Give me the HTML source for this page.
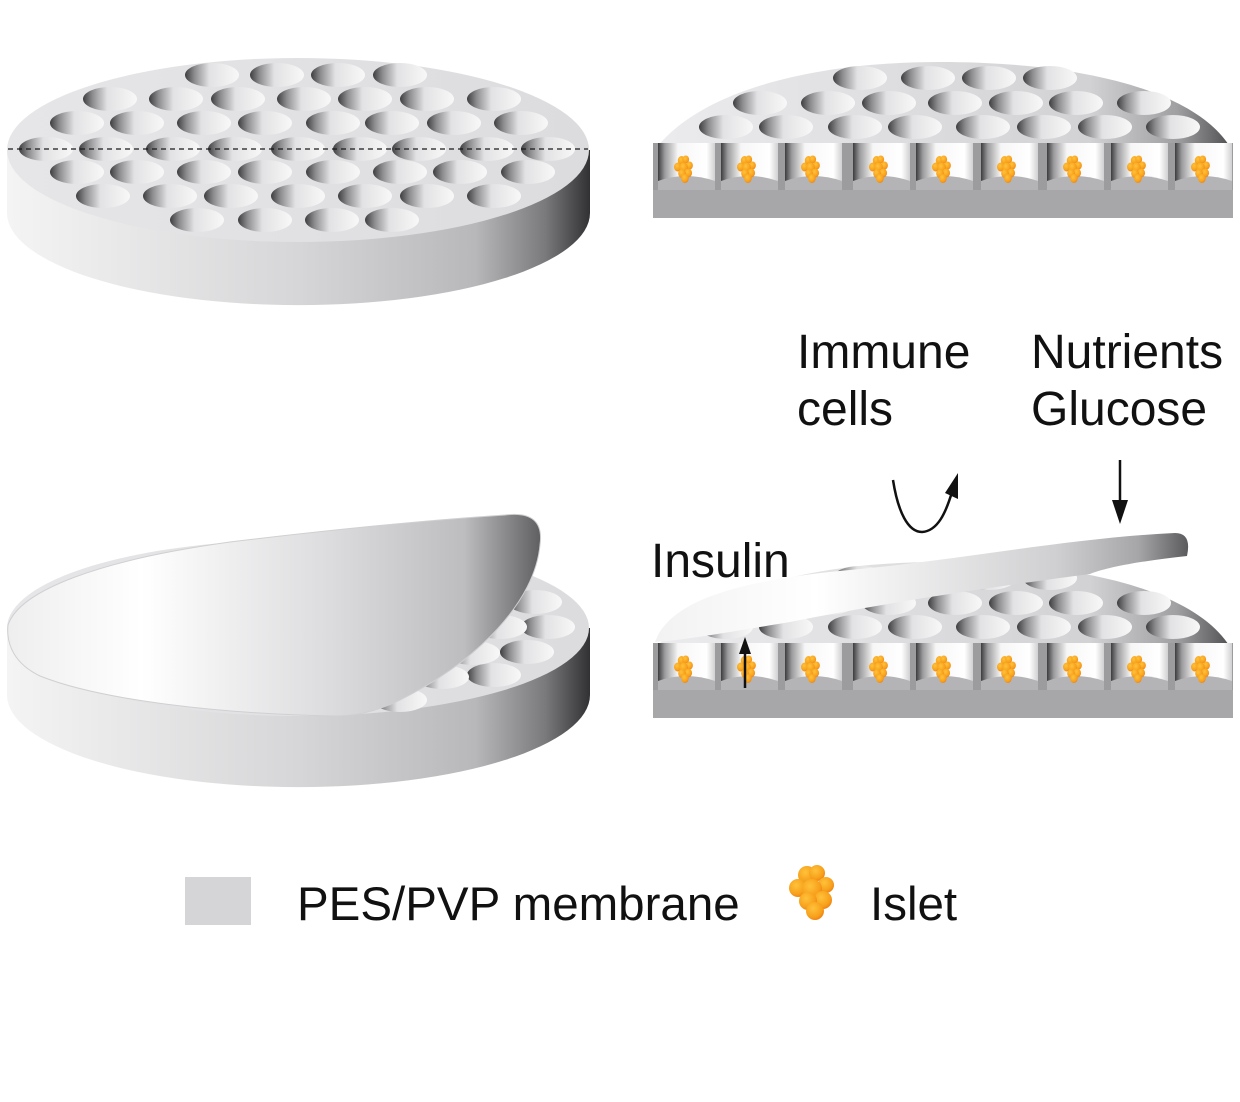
<!DOCTYPE html>
<html><head><meta charset="utf-8"><style>
html,body{margin:0;padding:0;background:#fff;}
svg{display:block;}
text{font-family:"Liberation Sans",Arial,sans-serif;fill:#111;}
</style></head><body>
<svg width="1240" height="1102" viewBox="0 0 1240 1102" xmlns="http://www.w3.org/2000/svg">
<defs>
<linearGradient id="hole" x1="0" y1="0" x2="1" y2="0">
<stop offset="0" stop-color="#3e3e40"/><stop offset="0.18" stop-color="#8e8e90"/><stop offset="0.45" stop-color="#e2e2e4"/><stop offset="1" stop-color="#f8f8f8"/></linearGradient>
<linearGradient id="side" x1="7" y1="0" x2="592" y2="0" gradientUnits="userSpaceOnUse">
<stop offset="0" stop-color="#f4f4f4"/><stop offset="0.5" stop-color="#d6d6d8"/><stop offset="0.8" stop-color="#b8b8ba"/><stop offset="0.92" stop-color="#7a7a7c"/><stop offset="1" stop-color="#2e2e30"/></linearGradient>
<linearGradient id="top" x1="0" y1="0" x2="1" y2="0">
<stop offset="0" stop-color="#e6e6e8"/><stop offset="1" stop-color="#dcdcde"/></linearGradient>
<linearGradient id="dome" x1="653" y1="0" x2="1235" y2="0" gradientUnits="userSpaceOnUse">
<stop offset="0" stop-color="#ececee"/><stop offset="0.75" stop-color="#d2d2d4"/><stop offset="0.9" stop-color="#a0a0a2"/><stop offset="1" stop-color="#4a4a4c"/></linearGradient>
<linearGradient id="cup" x1="0" y1="0" x2="1" y2="0">
<stop offset="0" stop-color="#3c3c3e"/><stop offset="0.12" stop-color="#9c9c9e"/><stop offset="0.35" stop-color="#f6f6f6"/><stop offset="0.85" stop-color="#ffffff"/><stop offset="1" stop-color="#d0d0d2"/></linearGradient>
<linearGradient id="flapL" x1="7" y1="0" x2="545" y2="0" gradientUnits="userSpaceOnUse">
<stop offset="0" stop-color="#eeeeef"/><stop offset="0.25" stop-color="#ffffff"/><stop offset="0.6" stop-color="#dcdcde"/><stop offset="0.85" stop-color="#bdbdbf"/><stop offset="1" stop-color="#5a5a5c"/></linearGradient>
<linearGradient id="flapR" x1="655" y1="0" x2="1192" y2="0" gradientUnits="userSpaceOnUse">
<stop offset="0" stop-color="#f2f2f2"/><stop offset="0.3" stop-color="#ffffff"/><stop offset="0.75" stop-color="#cfcfd1"/><stop offset="0.9" stop-color="#a6a6a8"/><stop offset="1" stop-color="#555557"/></linearGradient>
<radialGradient id="orb" cx="0.4" cy="0.35" r="0.7">
<stop offset="0" stop-color="#ffc23a"/><stop offset="0.7" stop-color="#f7a01c"/><stop offset="1" stop-color="#ef7d10"/></radialGradient>
<g id="h"><ellipse cx="0" cy="0" rx="27" ry="12" fill="url(#hole)"/></g>
<g id="islet">
<circle cx="37" cy="17" r="9" fill="url(#orb)"/><circle cx="47" cy="15" r="8" fill="url(#orb)"/>
<circle cx="56" cy="27" r="8" fill="url(#orb)"/><circle cx="28" cy="30" r="9" fill="url(#orb)"/>
<circle cx="42" cy="31" r="10" fill="url(#orb)"/><circle cx="53" cy="42" r="9" fill="url(#orb)"/>
<circle cx="38" cy="43" r="9" fill="url(#orb)"/><circle cx="45" cy="53" r="9" fill="url(#orb)"/>
</g>
<g id="cupg">
<rect x="0" y="0" width="57" height="47" fill="url(#cup)"/>
<path d="M0,47 L0,38 Q28,28 57,38 L57,47 Z" fill="#b4b4b6"/>
<use href="#islet" transform="translate(8,9) scale(0.42,0.5)"/>
</g>
<g id="holesL">
<use href="#h" x="212" y="75"/><use href="#h" x="277" y="75"/><use href="#h" x="338" y="75"/><use href="#h" x="400" y="75"/>
<use href="#h" x="110" y="99"/><use href="#h" x="176" y="99"/><use href="#h" x="238" y="99"/><use href="#h" x="304" y="99"/><use href="#h" x="365" y="99"/><use href="#h" x="427" y="99"/><use href="#h" x="494" y="99"/>
<use href="#h" x="77" y="123"/><use href="#h" x="137" y="123"/><use href="#h" x="204" y="123"/><use href="#h" x="265" y="123"/><use href="#h" x="333" y="123"/><use href="#h" x="392" y="123"/><use href="#h" x="454" y="123"/><use href="#h" x="521" y="123"/>
<use href="#h" x="46" y="149"/><use href="#h" x="106" y="149"/><use href="#h" x="173" y="149"/><use href="#h" x="235" y="149"/><use href="#h" x="298" y="149"/><use href="#h" x="360" y="149"/><use href="#h" x="419" y="149"/><use href="#h" x="487" y="149"/><use href="#h" x="548" y="149"/>
<use href="#h" x="77" y="172"/><use href="#h" x="137" y="172"/><use href="#h" x="204" y="172"/><use href="#h" x="265" y="172"/><use href="#h" x="333" y="172"/><use href="#h" x="400" y="172"/><use href="#h" x="460" y="172"/><use href="#h" x="528" y="172"/>
<use href="#h" x="103" y="196"/><use href="#h" x="170" y="196"/><use href="#h" x="231" y="196"/><use href="#h" x="298" y="196"/><use href="#h" x="365" y="196"/><use href="#h" x="427" y="196"/><use href="#h" x="494" y="196"/>
<use href="#h" x="197" y="220"/><use href="#h" x="265" y="220"/><use href="#h" x="332" y="220"/><use href="#h" x="392" y="220"/>
</g>
<g id="panelR">
<path d="M653,152 C700,88 820,62 940,62 C1080,62 1200,90 1233,152 Z" fill="url(#dome)"/>
<use href="#h" x="860" y="78"/><use href="#h" x="928" y="78"/><use href="#h" x="989" y="78"/><use href="#h" x="1050" y="78"/>
<use href="#h" x="760" y="103"/><use href="#h" x="828" y="103"/><use href="#h" x="889" y="103"/><use href="#h" x="955" y="103"/><use href="#h" x="1016" y="103"/><use href="#h" x="1076" y="103"/><use href="#h" x="1144" y="103"/>
<use href="#h" x="726" y="127"/><use href="#h" x="786" y="127"/><use href="#h" x="855" y="127"/><use href="#h" x="915" y="127"/><use href="#h" x="983" y="127"/><use href="#h" x="1044" y="127"/><use href="#h" x="1105" y="127"/><use href="#h" x="1173" y="127"/>
<rect x="653" y="143" width="580" height="48" fill="#9c9c9e"/>
<use href="#cupg" x="658" y="143"/><use href="#cupg" x="721" y="143"/><use href="#cupg" x="785" y="143"/><use href="#cupg" x="853" y="143"/><use href="#cupg" x="916" y="143"/><use href="#cupg" x="981" y="143"/><use href="#cupg" x="1047" y="143"/><use href="#cupg" x="1111" y="143"/><use href="#cupg" x="1175" y="143"/>
<rect x="653" y="190" width="580" height="28" fill="#a7a7a9"/>
</g>
</defs>

<!-- top-left disk -->
<path d="M7,150 L7,213 A291,92 0 0 0 590,213 L590,150 Z" fill="url(#side)"/>
<ellipse cx="298" cy="150" rx="291" ry="92" fill="url(#top)"/>
<use href="#holesL"/>
<line x1="8" y1="149" x2="588" y2="149" stroke="#1a1a1a" stroke-width="1.3" stroke-dasharray="5,4"/>

<!-- top-right panel -->
<use href="#panelR"/>

<!-- bottom-left disk -->
<path d="M7,628 L7,695 A291,92 0 0 0 590,695 L590,628 Z" fill="url(#side)"/>
<ellipse cx="298" cy="628" rx="291" ry="88" fill="url(#top)"/>
<use href="#h" x="535" y="602"/><use href="#h" x="548" y="627"/><use href="#h" x="527" y="652"/><use href="#h" x="494" y="675"/>
<use href="#h" x="500" y="627"/><use href="#h" x="473" y="653"/><use href="#h" x="442" y="677"/><use href="#h" x="400" y="700"/>
<path d="M8,625 C20,590 100,560 230,542 C330,530 430,520 505,515 Q545,510 540,545 C535,600 480,660 400,700 C375,712 355,716 335,716 C220,714 100,700 40,676 C15,664 6,645 8,625 Z" fill="url(#flapL)" stroke="#d0d0d2" stroke-width="1"/>

<!-- bottom-right panel -->
<use href="#panelR" transform="translate(0,500)"/>
<path d="M655,642 C670,600 740,580 850,570 C960,560 1070,538 1175,533 Q1192,533 1187,556 C1150,560 1110,566 1090,574 C1000,586 900,600 790,622 C730,632 685,640 655,642 Z" fill="url(#flapR)"/>

<!-- arrows -->
<line x1="745" y1="688" x2="745" y2="652" stroke="#111" stroke-width="2.5"/>
<path d="M745,637 L739,654 L751,654 Z" fill="#111"/>
<path d="M893,480 C898,512 908,532 922,532 C938,531 946,512 952,492" fill="none" stroke="#111" stroke-width="2.5"/>
<path d="M958,473 L945,493 L958,499 Z" fill="#111"/>
<line x1="1120" y1="460" x2="1120" y2="508" stroke="#111" stroke-width="2.5"/>
<path d="M1120,524 L1112,500 L1128,500 Z" fill="#111"/>

<!-- labels -->
<text x="797" y="368" font-size="48">Immune</text>
<text x="797" y="425" font-size="48">cells</text>
<text x="1031" y="368" font-size="48">Nutrients</text>
<text x="1031" y="425" font-size="48">Glucose</text>
<text x="651" y="577" font-size="48">Insulin</text>

<!-- legend -->
<rect x="185" y="877" width="66" height="48" fill="#d5d5d7"/>
<text x="297" y="920" font-size="47.5">PES/PVP membrane</text>
<use href="#islet" transform="translate(770,858)"/>
<text x="870" y="920" font-size="47.5">Islet</text>
</svg>
</body></html>
